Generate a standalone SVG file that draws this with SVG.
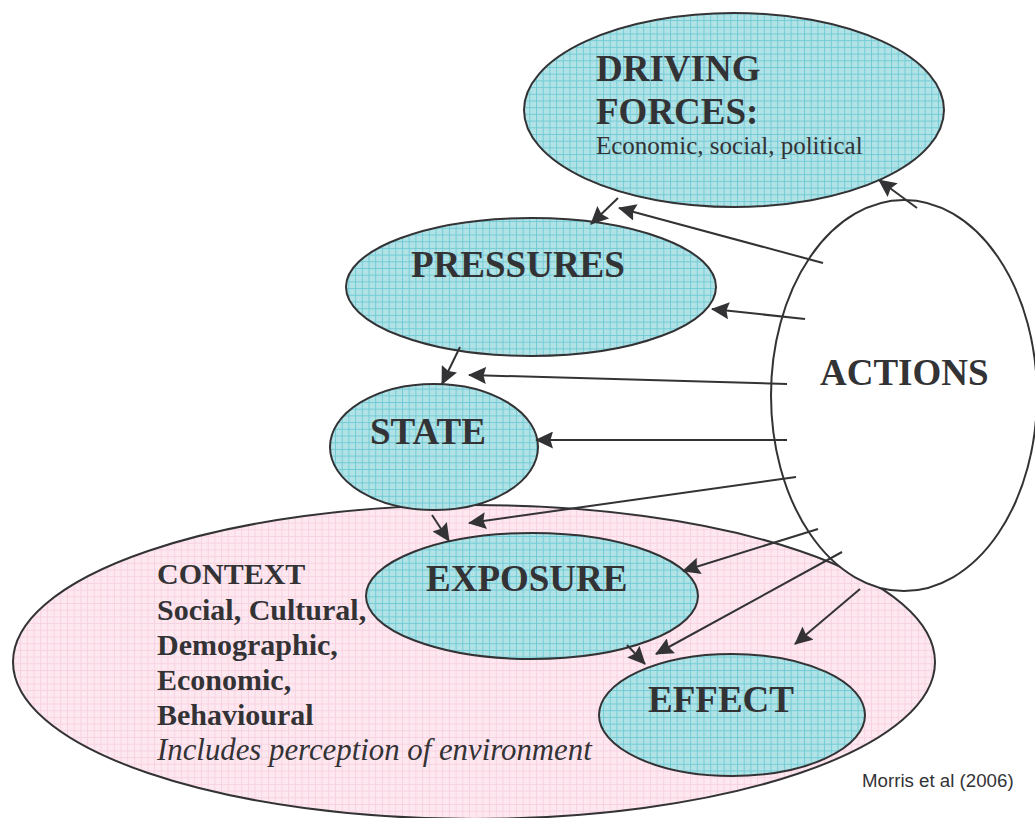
<svg xmlns="http://www.w3.org/2000/svg" width="1035" height="818" viewBox="0 0 1035 818">
  <defs>
    <!-- graph-paper fills -->
    <pattern id="gridCyan" width="6.7" height="6.7" patternUnits="userSpaceOnUse">
      <rect width="6.7" height="6.7" fill="#b1e2e6"/>
      <path d="M0,0.5H6.7M0.5,0V6.7" stroke="#6ccad3" stroke-width="0.9"/>
    </pattern>
    <pattern id="gridPink" width="6.7" height="6.7" patternUnits="userSpaceOnUse">
      <rect width="6.7" height="6.7" fill="#fde8f0"/>
      <path d="M0,0.5H6.7M0.5,0V6.7" stroke="#f8d0e1" stroke-width="0.9"/>
    </pattern>
    <marker id="arrow" viewBox="0 0 18 17" markerWidth="18" markerHeight="17" markerUnits="userSpaceOnUse" refX="17" refY="8.5" orient="auto">
      <path d="M0,0 L18,8.5 L0,17 L2.5,8.5 z" fill="#333336"/>
    </marker>
  </defs>
  <style>
    .cyan { fill: url(#gridCyan); stroke: #333336; stroke-width: 2; }
    .pink { fill: url(#gridPink); stroke: #333336; stroke-width: 2; }
    .plain { fill: #ffffff; stroke: #333336; stroke-width: 2; }
    .title { font-family: "Liberation Serif", "Times New Roman", serif; font-weight: bold; font-size: 37px; fill: #333336; }
    .sub { font-family: "Liberation Serif", "Times New Roman", serif; font-size: 25px; fill: #333336; }
    .ctx { font-family: "Liberation Serif", "Times New Roman", serif; font-weight: bold; font-size: 30px; fill: #333336; }
    .ctxi { font-family: "Liberation Serif", "Times New Roman", serif; font-style: italic; font-size: 30.8px; fill: #333336; }
    .cite { font-family: "Liberation Sans", Arial, sans-serif; font-size: 18.7px; fill: #333336; }
    .conn line { stroke: #333336; stroke-width: 2; marker-end: url(#arrow); }
  </style>

  <rect width="1035" height="818" fill="#ffffff"/>

  <g id="context">
    <ellipse class="pink" cx="474" cy="662" rx="461" ry="157"/>
    <text class="ctx" x="157" y="584">CONTEXT</text>
    <text class="ctx" x="157" y="620">Social, Cultural,</text>
    <text class="ctx" x="157" y="655">Demographic,</text>
    <text class="ctx" x="157" y="690">Economic,</text>
    <text class="ctx" x="157" y="725">Behavioural</text>
    <text class="ctxi" x="157" y="760">Includes perception of environment</text>
  </g>

  <g id="actions">
    <ellipse class="plain" cx="904" cy="395.5" rx="133" ry="195.5"/>
    <text class="title" x="820" y="385">ACTIONS</text>
  </g>

  <g id="driving-forces">
    <ellipse class="cyan" cx="734" cy="110" rx="210" ry="97"/>
    <text class="title" x="596" y="81">DRIVING</text>
    <text class="title" x="596" y="124">FORCES:</text>
    <text class="sub" x="596" y="154">Economic, social, political</text>
  </g>

  <g id="pressures">
    <ellipse class="cyan" cx="531" cy="287" rx="185" ry="69"/>
    <text class="title" x="411" y="277">PRESSURES</text>
  </g>

  <g id="state">
    <ellipse class="cyan" cx="434" cy="447" rx="104" ry="63"/>
    <text class="title" x="370" y="444">STATE</text>
  </g>

  <g id="exposure">
    <ellipse class="cyan" cx="532" cy="596" rx="166" ry="63"/>
    <text class="title" x="426" y="591">EXPOSURE</text>
  </g>

  <g id="effect">
    <ellipse class="cyan" cx="732" cy="715" rx="133" ry="61"/>
    <text class="title" x="648" y="712">EFFECT</text>
  </g>

  <g id="connectors" class="conn">
    <line x1="618" y1="198" x2="591" y2="224"/>
    <line x1="823" y1="263" x2="619" y2="208"/>
    <line x1="917" y1="208" x2="879" y2="180"/>
    <line x1="805" y1="319" x2="712" y2="309"/>
    <line x1="460" y1="347" x2="442" y2="384"/>
    <line x1="787" y1="384" x2="469" y2="375"/>
    <line x1="787" y1="440" x2="536" y2="440"/>
    <line x1="432" y1="515" x2="449" y2="541"/>
    <line x1="796" y1="477" x2="469" y2="523"/>
    <line x1="818" y1="529" x2="683" y2="571"/>
    <line x1="842" y1="552" x2="656" y2="654"/>
    <line x1="860" y1="589" x2="795" y2="644"/>
    <line x1="627" y1="645" x2="645" y2="664"/>
  </g>

  <text class="cite" x="862" y="787">Morris et al (2006)</text>
</svg>
